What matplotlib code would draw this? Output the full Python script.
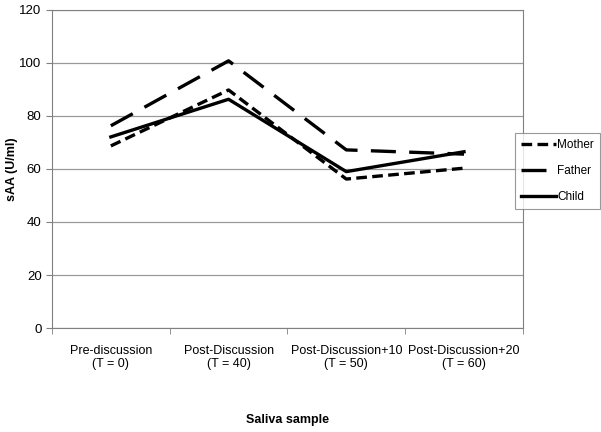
import numpy as np
import matplotlib.pyplot as plt

plt.rcParams['font.family'] = ['Liberation Sans', 'DejaVu Sans']

samples = ['Pre-discussion\n(T = 0)', 'Post-Discussion\n(T = 40)',
           'Post-Discussion+10\n(T = 50)', 'Post-Discussion+20\n(T = 60)']
mother = [68.7, 89.8, 56.2, 60.3]
father = [76.3, 100.8, 67.2, 65.6]
child = [72.1, 86.3, 59.0, 66.5]

x = np.arange(len(samples))

fig = plt.figure(figsize=(6.01, 4.32), dpi=100)
ax = fig.add_axes([0.0865, 0.2407, 0.7835, 0.7363])

ax.plot(x, mother, color='black', lw=2.4, linestyle=(0, (3.2, 1.6)), label='Mother')
ax.plot(x, father, color='black', lw=2.4, linestyle=(0, (7.5, 4)), label='Father')
ax.plot(x, child, color='black', lw=2.4, linestyle='-', label='Child')

ax.set_xlim(-0.5, len(samples) - 0.5)
ax.set_ylim(0, 120)
ax.set_yticks(np.arange(0, 121, 20))
ax.set_xticks(x)
ax.set_xticklabels(samples, fontsize=9)
ax.set_xticks(np.arange(-0.5, len(samples), 1), minor=True)
ax.tick_params(axis='x', which='major', length=0, pad=12)
ax.tick_params(axis='x', which='minor', length=4, color='#808080')
ax.tick_params(axis='y', length=4, color='#808080', labelsize=9.5)
ax.yaxis.grid(True, color='#999999', lw=0.9)
ax.set_axisbelow(True)
for s in ax.spines.values():
    s.set_color('#808080')

ax.set_ylabel('sAA (U/ml)', fontsize=9, fontweight='bold', va='center')
ax.yaxis.set_label_coords(-0.085, 0.5)
ax.set_xlabel('Saliva sample', fontsize=9, fontweight='bold', va='center')
ax.xaxis.set_label_coords(0.5, -0.289)

leg = ax.legend(loc='upper left', bbox_to_anchor=(515 / 601, 1 - 133 / 432),
                bbox_transform=fig.transFigure, borderaxespad=0, fontsize=8.5,
                frameon=True, fancybox=False, edgecolor='#808080',
                handlelength=2.9, handletextpad=0.1, labelspacing=1.15,
                borderpad=0.55)
leg.get_frame().set_linewidth(0.8)

fig.savefig('out.png', dpi=100)
